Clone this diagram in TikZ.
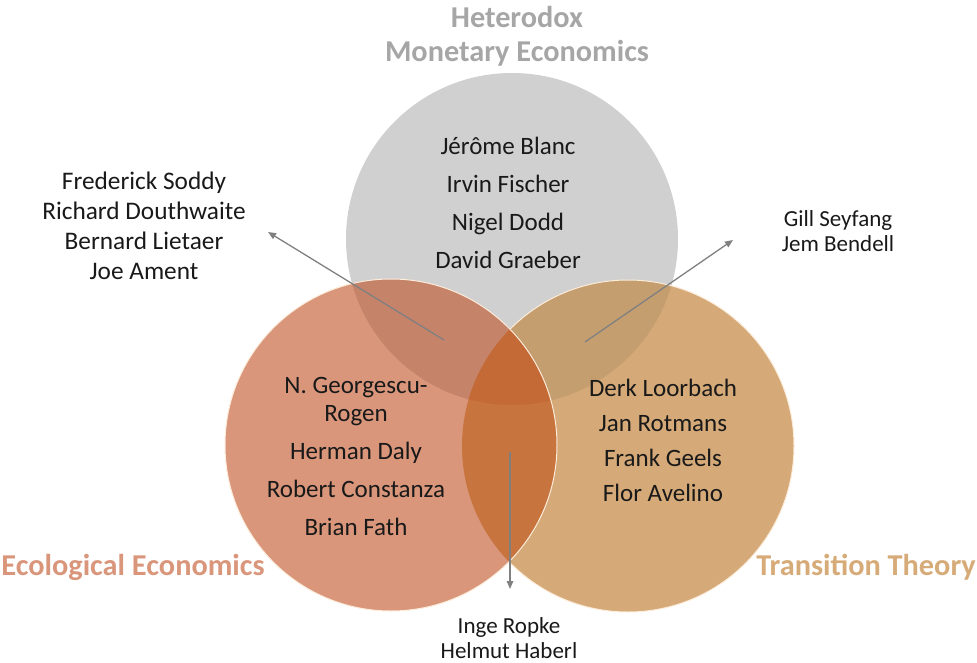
\documentclass[tikz,border=0pt]{standalone}
\usepackage{fontspec}
\setmainfont{Carlito}
\usetikzlibrary{arrows.meta}

% circle fills
\definecolor{cgray}{RGB}{208,208,208}
\definecolor{csalmon}{RGB}{217,150,123}
\definecolor{ctan}{RGB}{213,170,120}
% overlap fills
\definecolor{cgs}{RGB}{197,131,106}
\definecolor{cgt}{RGB}{197,158,112}
\definecolor{cst}{RGB}{200,116,62}
\definecolor{call}{RGB}{195,106,55}
% text and lines
\definecolor{ctitle}{RGB}{166,166,166}
\definecolor{csalmontxt}{RGB}{217,150,123}
\definecolor{ctantxt}{RGB}{214,171,120}
\definecolor{cline}{RGB}{128,128,128}
\definecolor{crim}{RGB}{252,236,218}
\definecolor{ctext}{RGB}{25,25,25}

\tikzset{
  names/.style={inner sep=0pt, align=center, text=ctext,
    font=\fontsize{25}{28}\selectfont},
  outnames/.style={inner sep=0pt, align=center, text=ctext,
    font=\fontsize{25.3}{30}\selectfont},
  smallnames/.style={inner sep=0pt, align=center, text=ctext,
    font=\fontsize{23}{24.5}\selectfont},
  heading/.style={inner sep=0pt, align=center,
    font=\fontsize{30.3}{34}\selectfont\bfseries},
  pointer/.style={draw=cline, line width=1.3pt,
    -{Triangle[length=8pt,width=6.5pt]}},
  rim/.style={draw=crim, line width=1pt},
}

\begin{document}
\begin{tikzpicture}[x=1pt,y=-1pt]
\useasboundingbox (0,0) rectangle (977,663);

\def\R{166pt}
\coordinate (ctop)   at (512,239);
\coordinate (cleft)  at (391,445);
\coordinate (cright) at (628,446);

% money circle
\fill[cgray] (ctop) circle[radius=\R];

% transition circle and its overlap with the money circle
\fill[ctan] (cright) circle[radius=\R];
\begin{scope}
  \clip (ctop) circle[radius=\R];
  \fill[cgt] (cright) circle[radius=\R];
\end{scope}
\draw[rim] (cright) circle[radius=\R];

% ecology circle with its overlaps
\fill[csalmon] (cleft) circle[radius=\R];
\begin{scope}
  \clip (cleft) circle[radius=\R];
  \fill[cgs] (ctop) circle[radius=\R];
  \fill[cst] (cright) circle[radius=\R];
  \clip (ctop) circle[radius=\R];
  \fill[call] (cright) circle[radius=\R];
\end{scope}
\draw[rim] (cleft) circle[radius=\R];

% headings
\node[heading, text=ctitle] (hmoney) at (517,36)
  {Heterodox\\Monetary Economics};
\node[heading, text=csalmontxt] (heco) at (133,567) {Ecological Economics};
\node[heading, text=ctantxt] (htrans) at (866,567) {Transition Theory};

% names inside the circles
\node[names] (nmoney) at (508,203)
  {Jérôme Blanc\\[10pt]Irvin Fischer\\[10pt]Nigel Dodd\\[10pt]David Graeber};
\node[names] (neco) at (356,456)
  {N. Georgescu-\\Rogen\\[10pt]Herman Daly\\[10pt]Robert Constanza\\[10pt]Brian Fath};
\node[names] (ntrans) at (663,440)
  {Derk Loorbach\\[7pt]Jan Rotmans\\[7pt]Frank Geels\\[7pt]Flor Avelino};

% names of the overlaps
\node[outnames] (nmoneyeco) at (144,226)
  {Frederick Soddy\\Richard Douthwaite\\Bernard Lietaer\\Joe Ament};
\node[smallnames] (nmoneytrans) at (838,231) {Gill Seyfang\\Jem Bendell};
\node[smallnames] (necotrans) at (509,638) {Inge Ropke\\Helmut Haberl};

% pointers from the overlaps to their names
\coordinate (pms) at (444,340);
\coordinate (pme) at (268,232);
\coordinate (pts) at (585,342);
\coordinate (pte) at (733,240);
\coordinate (pes) at (510,452);
\coordinate (pee) at (510,589);
\draw[pointer] (pms) -- (pme);
\draw[pointer] (pts) -- (pte);
\draw[pointer] (pes) -- (pee);
\end{tikzpicture}
\end{document}
